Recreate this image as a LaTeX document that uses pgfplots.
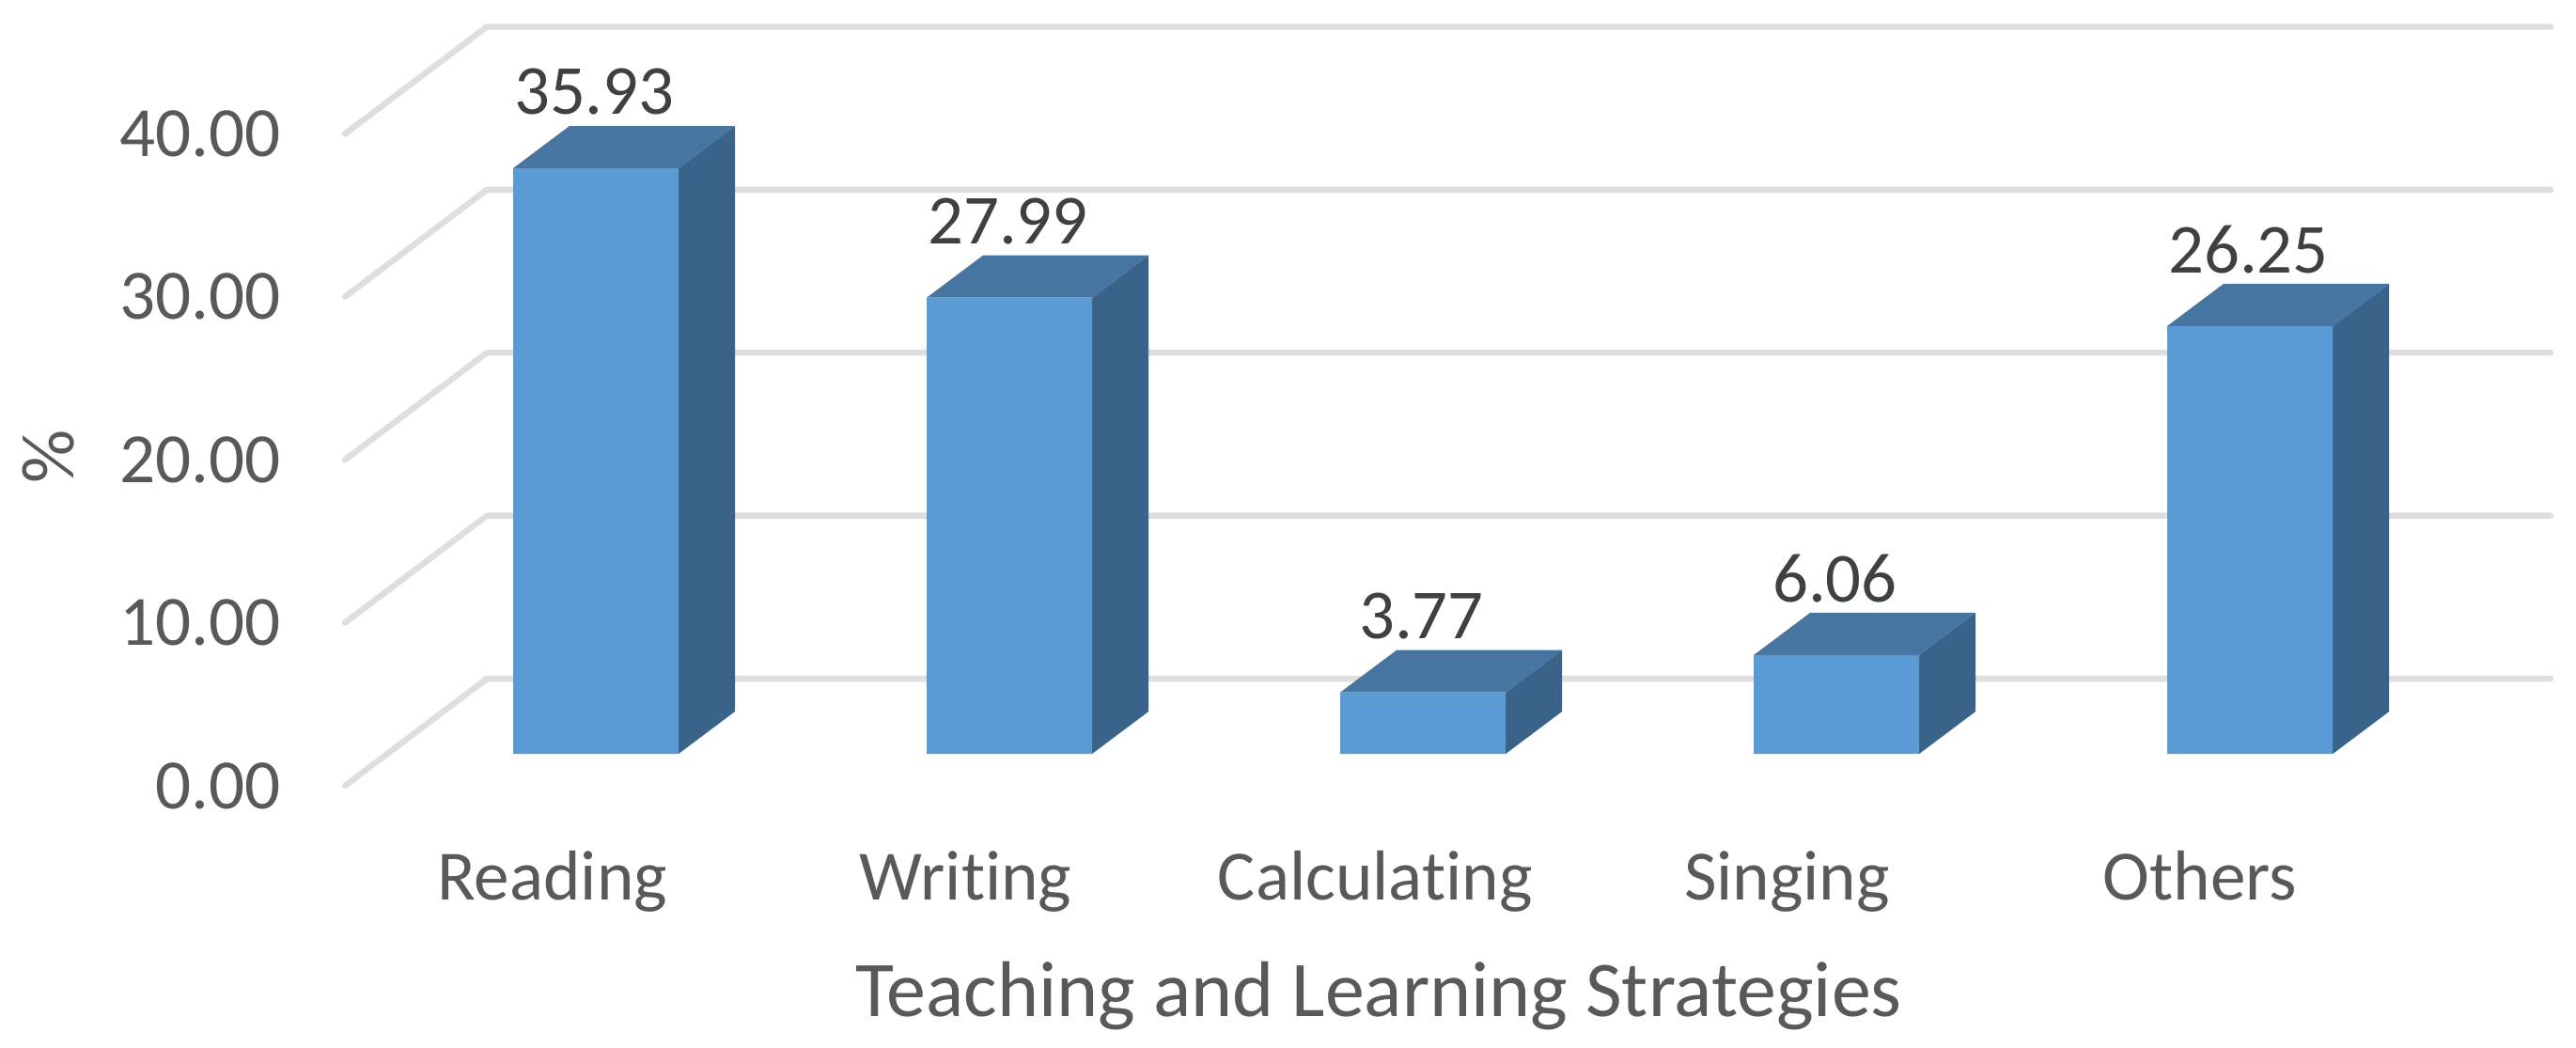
\documentclass[border=0pt]{standalone}
\usepackage{pgfplots}
\usepackage{fontspec}
\setmainfont{Carlito}[Ligatures=NoCommon]
\pgfplotsset{compat=1.18}
\definecolor{gridc}{HTML}{DEDEDE}
\definecolor{barfront}{HTML}{5B9BD5}
\definecolor{bartop}{HTML}{4675A1}
\definecolor{barside}{HTML}{3A6389}
\definecolor{ticktxt}{HTML}{595959}
\definecolor{datatxt}{HTML}{404040}
\pgfplotsset{
  gridl/.style={draw=gridc,line width=1.6pt,line cap=round,line join=round,mark=none,forget plot},
  sidef/.style={fill=barside,draw=none,mark=none,forget plot},
  topf/.style={fill=bartop,draw=none,mark=none,forget plot},
}
\begin{document}
\begin{tikzpicture}
\path[use as bounding box] (0,0) rectangle (685.25pt,278.5pt);
\begin{axis}[
  at={(91.75pt,69.5pt)},anchor=south west,
  scale only axis,width=586.75pt,height=202pt,
  xmin=-0.6068,xmax=4.727,ymin=-1.96,ymax=44.64,
  axis line style={draw=none},
  clip=false,
  major tick length=0pt,
  tick style={draw=none},
  xtick={0,1,1.99,2.986,3.984},
  xticklabels={Reading,Writing,Calculating,Singing,Others},
  ytick={-1.96,8.04,18.04,28.04,38.04},
  yticklabels={0.00,10.00,20.00,30.00,40.00},
  every tick label/.append style={font=\fontsize{18.8}{22}\selectfont,text=ticktxt},
  xticklabel style={xshift=-11.6pt,yshift=-13.8pt},
  yticklabel style={xshift=-13.5pt},
  xlabel={Teaching and Learning Strategies},
  ylabel={\%},
  xlabel style={font=\fontsize{21}{25}\selectfont,text=ticktxt,at={(axis description cs:0.4687,-0.2766)},anchor=center},
  ylabel style={font=\fontsize{20}{24}\selectfont,text=ticktxt,at={(axis description cs:-0.1342,0.433)},anchor=center},
]
% wall / floor grid lines
\addplot[gridl] coordinates {(-0.6068,-1.96) (-0.2636,4.61) (4.727,4.61)};
\addplot[gridl] coordinates {(-0.6068,8.04) (-0.2636,14.61) (4.727,14.61)};
\addplot[gridl] coordinates {(-0.6068,18.04) (-0.2636,24.61) (4.727,24.61)};
\addplot[gridl] coordinates {(-0.6068,28.04) (-0.2636,34.61) (4.727,34.61)};
\addplot[gridl] coordinates {(-0.6068,38.04) (-0.2636,44.61) (4.727,44.61)};
% side faces
\addplot[sidef] coordinates {(0.2,0) (0.3364,2.595) (0.3364,38.525) (0.2,35.93)} -- cycle;
\addplot[sidef] coordinates {(1.2,0) (1.3364,2.595) (1.3364,30.585) (1.2,27.99)} -- cycle;
\addplot[sidef] coordinates {(2.2,0) (2.3364,2.595) (2.3364,6.365) (2.2,3.77)} -- cycle;
\addplot[sidef] coordinates {(3.2,0) (3.3364,2.595) (3.3364,8.655) (3.2,6.06)} -- cycle;
\addplot[sidef] coordinates {(4.2,0) (4.3364,2.595) (4.3364,28.845) (4.2,26.25)} -- cycle;
% top faces
\addplot[topf] coordinates {(-0.2,35.93) (0.2,35.93) (0.3364,38.525) (-0.0636,38.525)} -- cycle;
\addplot[topf] coordinates {(0.8,27.99) (1.2,27.99) (1.3364,30.585) (0.9364,30.585)} -- cycle;
\addplot[topf] coordinates {(1.8,3.77) (2.2,3.77) (2.3364,6.365) (1.9364,6.365)} -- cycle;
\addplot[topf] coordinates {(2.8,6.06) (3.2,6.06) (3.3364,8.655) (2.9364,8.655)} -- cycle;
\addplot[topf] coordinates {(3.8,26.25) (4.2,26.25) (4.3364,28.845) (3.9364,28.845)} -- cycle;
% front faces
\addplot[ybar,bar width=0.4,bar shift=0pt,fill=barfront,draw=none,
  point meta=y,
  nodes near coords={\pgfmathprintnumber[fixed,fixed zerofill,precision=2,assume math mode=true]{\pgfplotspointmeta}},
  every node near coord/.append style={anchor=center,xshift=-0.4pt,yshift=20.3pt,text=datatxt,font=\fontsize{18.7}{22}\selectfont},
] coordinates {(0,35.93) (1,27.99) (2,3.77) (3,6.06) (4,26.25)};
\end{axis}
\end{tikzpicture}
\end{document}
